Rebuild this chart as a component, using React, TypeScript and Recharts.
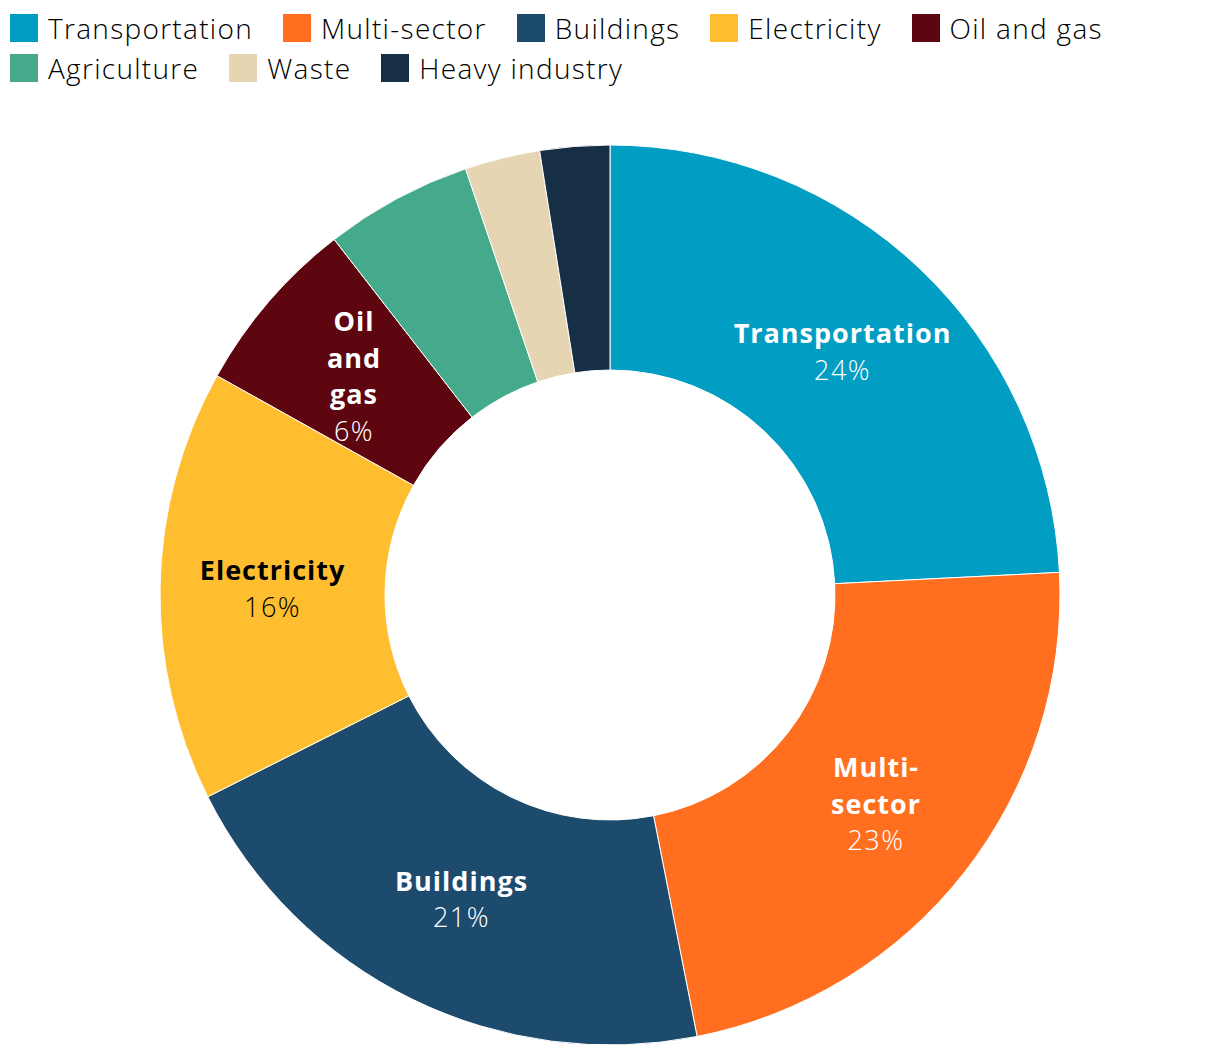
import { PieChart, Pie, Cell } from "recharts";

const sectors = [
  "Transportation",
  "Multi-sector",
  "Buildings",
  "Electricity",
  "Oil and gas",
  "Agriculture",
  "Waste",
  "Heavy industry",
];
const shares = [24.2, 22.7, 20.7, 15.5, 6.4, 5.3, 2.7, 2.5];
const COLORS = ["#029DC3", "#FF6F1F", "#1C4B6E", "#FFBE2F", "#5E0610", "#45AA8B", "#E6D5B2", "#162F44"];
// how each slice label is broken into lines (empty = no label)
const labelLines = [["Transportation"], ["Multi-", "sector"], ["Buildings"], ["Electricity"], ["Oil", "and", "gas"], [], [], []];
const labelColors = ["#fff", "#fff", "#fff", "#000", "#fff", "#fff", "#fff", "#fff"];

const FONT = "'Open Sans', sans-serif";
const RAD = Math.PI / 180;
const LINE_H = 36.5;

const data = sectors.map((name, i) => ({ name, value: shares[i] }));
const total = shares.reduce((a, b) => a + b, 0);

function renderLabel(props: any) {
  const { cx, cy, midAngle, innerRadius, outerRadius, index } = props;
  const lines = labelLines[index];
  if (!lines || lines.length === 0) return null;
  const r = (innerRadius + outerRadius) / 2;
  const x = cx + r * Math.cos(-midAngle * RAD);
  const y = cy + r * Math.sin(-midAngle * RAD);
  const count = lines.length + 1;
  const top = y - ((count - 1) * LINE_H) / 2;
  const pct = Math.round((shares[index] / total) * 100);
  return (
    <text
      x={x}
      y={top}
      textAnchor="middle"
      dominantBaseline="central"
      fill={labelColors[index]}
      fontFamily={FONT}
      fontSize={27}
    >
      {lines.map((l, i) => (
        <tspan key={i} x={x} y={top + i * LINE_H} fontWeight={700} letterSpacing={1}>
          {l}
        </tspan>
      ))}
      <tspan x={x} y={top + lines.length * LINE_H} fontWeight={300} letterSpacing={1.5}>
        {pct}%
      </tspan>
    </text>
  );
}

function LegendRow({ items }: { items: number[] }) {
  return (
    <div style={{ display: "flex", alignItems: "center", height: 40 }}>
      {items.map((i) => (
        <div key={i} style={{ display: "flex", alignItems: "center", marginRight: 30 }}>
          <div style={{ width: 28, height: 28, background: COLORS[i], marginRight: 10 }} />
          <span
            style={{
              fontSize: 28,
              fontWeight: 300,
              letterSpacing: 1.3,
              color: "#000",
              fontFamily: FONT,
              whiteSpace: "nowrap",
            }}
          >
            {sectors[i]}
          </span>
        </div>
      ))}
    </div>
  );
}

export default function App() {
  return (
    <div style={{ position: "relative", width: 1204, height: 1040, background: "#fff" }}>
      <div style={{ position: "absolute", left: 2, top: 0 }}>
        <LegendRow items={[0, 1, 2, 3, 4]} />
        <LegendRow items={[5, 6, 7]} />
      </div>
      <PieChart width={1204} height={1040} margin={{ top: 0, right: 0, bottom: 0, left: 0 }}>
        <Pie
          data={data}
          dataKey="value"
          nameKey="name"
          cx={602}
          cy={587}
          innerRadius={225}
          outerRadius={450}
          startAngle={90}
          endAngle={-270}
          stroke="#fff"
          strokeWidth={1}
          label={renderLabel}
          labelLine={false}
          isAnimationActive={false}
        >
          {data.map((entry, index) => (
            <Cell key={`cell-${index}`} fill={COLORS[index]} />
          ))}
        </Pie>
      </PieChart>
    </div>
  );
}
